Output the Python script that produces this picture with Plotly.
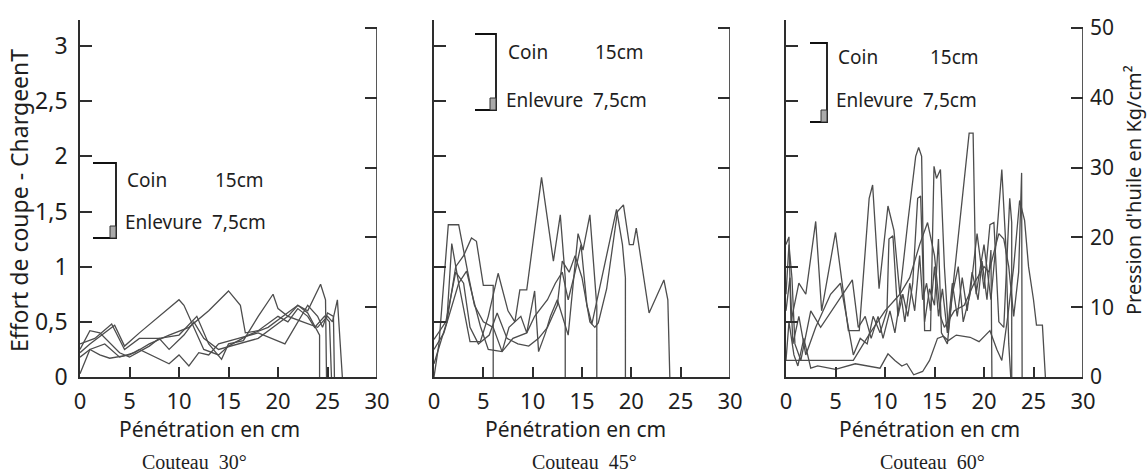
import plotly.graph_objects as go

W, H = 1147, 473

# ---------------- data (x: penetration cm, t: effort T) ----------------
# Couteau 30°
p1_s1_x = [0, 1, 3.5, 4.5, 6, 8, 10, 10.5, 12.5, 14, 15, 17, 19, 20.5, 22, 23, 24, 24.2, 24.2]
p1_s1_t = [0.22, 0.3, 0.47, 0.28, 0.4, 0.55, 0.7, 0.65, 0.25, 0.2, 0.28, 0.38, 0.45, 0.55, 0.65, 0.58, 0.42, 0.38, 0.0]
p1_s2_x = [0, 1, 2.5, 4, 5.5, 7, 9, 11, 13, 15, 16.2, 16.7, 18, 20, 21, 22, 23, 23.7, 24.7, 25.2, 25.4]
p1_s2_t = [0.03, 0.25, 0.3, 0.18, 0.22, 0.3, 0.38, 0.45, 0.6, 0.78, 0.65, 0.4, 0.42, 0.55, 0.5, 0.62, 0.55, 0.45, 0.55, 0.5, 0.0]
p1_s3_x = [0, 1, 2, 4, 5, 7, 8, 10, 11.8, 13, 14.3, 15, 16.5, 18, 19.5, 20, 21, 22, 23, 24.3, 24.8, 24.9]
p1_s3_t = [0.25, 0.42, 0.4, 0.22, 0.18, 0.28, 0.35, 0.38, 0.55, 0.3, 0.16, 0.3, 0.33, 0.55, 0.75, 0.62, 0.55, 0.65, 0.6, 0.84, 0.7, 0.0]
p1_s4_x = [0, 1, 2, 3, 5, 6, 9, 10, 11, 12, 13, 14, 16, 18, 20.7, 22, 23, 24, 24.5, 25, 25.6, 25.7]
p1_s4_t = [0.18, 0.25, 0.2, 0.17, 0.2, 0.25, 0.12, 0.2, 0.1, 0.22, 0.2, 0.3, 0.35, 0.4, 0.3, 0.5, 0.65, 0.55, 0.45, 0.58, 0.55, 0.0]
p1_s5_x = [0, 1.5, 3.2, 4.5, 6, 8, 9, 10.5, 11.5, 12.5, 14, 16, 18, 19.5, 21, 22.5, 24, 25, 25.5, 26, 26.5]
p1_s5_t = [0.3, 0.35, 0.48, 0.25, 0.35, 0.35, 0.25, 0.38, 0.5, 0.35, 0.25, 0.3, 0.35, 0.45, 0.55, 0.5, 0.45, 0.55, 0.5, 0.7, 0.0]

# Couteau 45°
p2_s1_x = [0, 1.3, 2.2, 3.0, 3.8, 4.3, 5.0, 6.0, 6.0]
p2_s1_t = [0.12, 0.5, 1.0, 1.1, 1.26, 1.23, 0.83, 0.83, 0.0]
p2_s2_x = [0, 1.3, 1.8, 2.5, 3.65, 4.7, 5.5, 6.5, 7.5, 8.2, 8.7, 9.4, 10.9, 12.1, 12.8, 13.3, 13.3]
p2_s2_t = [0.5, 0.5, 1.21, 0.85, 0.32, 0.32, 0.55, 0.94, 0.6, 0.5, 0.79, 0.79, 1.81, 1.05, 1.47, 0.9, 0.0]
p2_s3_x = [0, 0.5, 1.45, 2.5, 3.4, 4.1, 5.0, 6.0, 6.9, 7.6, 8.8, 9.4, 10.2, 10.6, 11.3, 11.8, 12.5, 13.6, 14.6, 15.1, 15.8, 16.5, 16.5]
p2_s3_t = [0.0, 0.3, 1.38, 1.38, 0.96, 0.65, 0.5, 0.45, 0.23, 0.45, 0.55, 0.4, 0.78, 0.23, 0.4, 0.55, 0.7, 0.38, 1.3, 1.15, 1.47, 0.64, 0.0]
p2_s4_x = [0, 1.0, 2.5, 3.3, 4.0, 4.7, 5.5, 6.9, 8.0, 9.4, 10.2, 11.5, 12.3, 13.0, 13.6, 14.3, 14.9, 15.5, 16.0, 17.0, 18.5, 19.1, 19.4, 19.4]
p2_s4_t = [0.25, 0.4, 0.85, 0.96, 0.7, 0.46, 0.25, 0.23, 0.35, 0.4, 0.55, 0.7, 0.85, 0.95, 0.7, 0.95, 1.2, 0.65, 0.48, 0.9, 1.52, 1.2, 0.9, 0.0]
p2_s5_x = [0, 1.2, 2.2, 3.0, 3.65, 4.5, 5.6, 6.4, 7.4, 8.5, 9.6, 10.6, 11.5, 12.5, 13.0, 13.7, 14.3, 15.0, 15.8, 16.3, 16.65, 17.5, 18.6, 19.2, 19.8, 20.2, 20.5, 21.8, 23.3, 23.7, 23.9]
p2_s5_t = [0.34, 0.5, 0.95, 0.85, 0.45, 0.3, 0.38, 0.58, 0.35, 0.3, 0.28, 0.35, 0.45, 0.65, 1.05, 0.95, 1.1, 0.9, 0.5, 0.45, 0.49, 0.8, 1.5, 1.56, 1.2, 1.2, 1.35, 0.58, 0.88, 0.7, 0.0]

# Couteau 60°
p3_s1_x = [0, 0.3, 0.5, 1.3, 2.0, 3.0, 3.6, 5.0, 6.3, 7.4, 8.4, 8.75, 9.4, 10.3, 10.9, 11.5, 12.3, 13.1, 13.4, 13.7, 14.0, 14.6, 14.95, 15.2, 15.6, 16.0, 16.4, 18.5, 18.9, 19.2, 20.0, 20.7, 21.3, 21.8, 22.2, 22.5, 22.7]
p3_s1_t = [1.2, 1.27, 0.5, 0.85, 0.75, 1.41, 0.6, 1.31, 0.42, 0.42, 1.62, 1.74, 0.8, 1.55, 1.33, 0.75, 1.4, 2.0, 2.08, 2.0, 0.42, 0.42, 1.91, 1.8, 1.88, 1.0, 0.42, 2.21, 2.21, 0.75, 1.2, 0.7, 1.3, 1.88, 1.2, 0.3, 0.0]
p3_s2_x = [0, 0.3, 0.6, 0.9, 1.5, 2.5, 3.5, 5, 6.7, 7.3, 8, 8.6, 9.3, 9.8, 10.5, 11, 11.6, 12, 12.5, 13.0, 13.5, 13.8, 14.2, 14.6, 15.0, 15.4, 15.8, 16.3, 16.8, 17.3, 17.8, 18.3, 18.8, 19.4, 19.8, 20.3, 20.7, 20.8]
p3_s2_t = [0.75, 1.2, 0.9, 0.3, 0.15, 0.6, 0.45, 0.65, 0.88, 0.45, 0.55, 0.35, 0.55, 0.35, 0.6, 0.4, 0.75, 0.5, 0.85, 0.6, 1.1, 0.7, 0.85, 0.6, 1.0, 0.55, 0.8, 0.4, 0.85, 0.55, 0.9, 0.6, 0.95, 0.7, 1.05, 0.7, 1.15, 0.0]
p3_s3_x = [0, 0.4, 0.7, 1.3, 2, 3, 4.5, 5.5, 6.8, 7.5, 8.2, 8.8, 9.5, 10.2, 10.4, 10.8, 11.3, 11.8, 12.3, 12.8, 13.3, 13.6, 14.0, 14.5, 15.0, 15.4, 15.7, 16.3, 16.8, 17.4, 17.9, 18.6, 19.3, 20.0, 20.6, 21.0, 21.5, 22.0, 22.6, 22.8, 22.8]
p3_s3_t = [0.6, 0.9, 0.3, 0.55, 0.2, 0.45, 0.75, 0.85, 0.2, 0.35, 0.3, 0.55, 0.4, 0.6, 1.25, 1.28, 0.55, 0.75, 0.55, 0.85, 1.62, 1.64, 0.5, 0.8, 0.65, 1.25, 0.4, 0.3, 0.75, 1.0, 0.5, 0.75, 1.3, 0.8, 1.38, 1.4, 0.5, 0.45, 1.62, 1.4, 0.0]
p3_s4_x = [0, 6.8, 8.5, 10.0, 11.5, 12.5, 13.5, 14.3, 15.0, 15.6, 16.0, 17, 18, 19, 20, 20.5, 21.2, 21.5, 22, 22.5, 23.0, 23.5, 23.8, 23.85]
p3_s4_t = [0.15, 0.15, 0.4, 0.6, 0.75, 0.9, 1.2, 1.4, 1.1, 0.55, 0.45, 0.6, 0.65, 0.85, 1.0, 0.95, 1.2, 1.3, 1.25, 1.0, 0.55, 0.95, 1.85, 0.0]
p3_s5_x = [0, 0.3, 0.8, 1.2, 1.8, 2.5, 3.2, 5, 7.0, 8.5, 9.5, 10.3, 11.0, 11.7, 12.2, 12.9, 13.8, 14.5, 15.3, 15.9, 16.4, 17.2, 18.6, 19.5, 20.6, 21.3, 21.8, 22.4, 23.0, 23.6, 24.1, 24.5, 25.0, 25.3, 25.9, 26.2]
p3_s5_t = [0.15, 0.5, 0.2, 0.1, 0.35, 0.08, 0.1, 0.07, 0.12, 0.1, 0.08, 0.21, 0.15, 0.1, 0.12, 0.02, 0.05, 0.15, 0.35, 0.37, 0.33, 0.38, 0.36, 0.32, 0.42, 0.25, 0.15, 0.55, 1.0, 1.6, 1.42, 1.0, 0.7, 0.47, 0.47, 0.0]

panel1 = [(p1_s1_x, p1_s1_t), (p1_s2_x, p1_s2_t), (p1_s3_x, p1_s3_t), (p1_s4_x, p1_s4_t), (p1_s5_x, p1_s5_t)]
panel2 = [(p2_s1_x, p2_s1_t), (p2_s2_x, p2_s2_t), (p2_s3_x, p2_s3_t), (p2_s4_x, p2_s4_t), (p2_s5_x, p2_s5_t)]
panel3 = [(p3_s1_x, p3_s1_t), (p3_s2_x, p3_s2_t), (p3_s3_x, p3_s3_t), (p3_s4_x, p3_s4_t), (p3_s5_x, p3_s5_t)]

x_ticks = [0, 5, 10, 15, 20, 25, 30]
x_ticklabels = ["0", "5", "10", "15", "20", "25", "30"]
t_ticks = [0, 0.5, 1, 1.5, 2, 2.5, 3]
t_ticklabels = ["0", "0,5", "1", "1,5", "2", "2,5", "3"]
p_ticks = [0, 10, 20, 30, 40, 50]
p_ticklabels = ["0", "10", "20", "30", "40", "50"]
captions = ["Couteau  30°", "Couteau  45°", "Couteau  60°"]

# ---------------- layout helpers ----------------
def px(x):
    return x / W

def py(y):
    return 1 - y / H

LINE = "#4d4d4d"
AX = "#2e2e2e"
FONT = "Noto Sans"
TXT = "#1e1e1e"

x_dom = [(80, 377), (434, 730), (786, 1083)]
y_dom = [py(377), py(20)]
t_top = (377 - 20) / ((377 - 46) / 3.0)
p_top = (377 - 20) / ((377 - 28) / 50.0)

fig = go.Figure()
panels = [panel1, panel2, panel3]
for i, pan in enumerate(panels):
    xa = "x" if i == 0 else f"x{i+1}"
    ya = "y" if i == 0 else f"y{i+1}"
    for xs, ts in pan:
        fig.add_trace(go.Scatter(x=xs, y=ts, mode="lines", xaxis=xa, yaxis=ya,
                                 line=dict(color=LINE, width=1.3), showlegend=False,
                                 hoverinfo="skip"))
    # invisible trace for the right (pressure) axis
    fig.add_trace(go.Scatter(x=[0], y=[0], mode="markers", xaxis=xa, yaxis=f"y{i+4}",
                             marker=dict(opacity=0), showlegend=False, hoverinfo="skip"))

layout = dict(width=W, height=H, margin=dict(l=0, r=0, t=0, b=0, autoexpand=False),
              paper_bgcolor="white", plot_bgcolor="white", showlegend=False)

for i in range(3):
    xk = "xaxis" if i == 0 else f"xaxis{i+1}"
    yk = "yaxis" if i == 0 else f"yaxis{i+1}"
    yr = f"yaxis{i+4}"
    xname = "x" if i == 0 else f"x{i+1}"
    yname = "y" if i == 0 else f"y{i+1}"
    layout[xk] = dict(domain=[px(x_dom[i][0]), px(x_dom[i][1])], range=[0, 30],
                      anchor=yname, showgrid=False, zeroline=False, showline=True,
                      linecolor=AX, linewidth=1.6, ticks="inside", ticklen=10,
                      tickwidth=1.5, tickcolor=AX, tickvals=x_ticks, ticktext=x_ticklabels,
                      tickfont=dict(family=FONT, size=22, color=TXT), ticklabelstandoff=4,
                      automargin=False)
    layout[yk] = dict(domain=y_dom, range=[0, t_top], anchor=xname, showgrid=False,
                      zeroline=False, showline=True, linecolor=AX, linewidth=1.6,
                      ticks="inside", ticklen=12, tickwidth=1.5, tickcolor=AX,
                      tickvals=t_ticks, ticktext=t_ticklabels if i == 0 else [""] * 7,
                      showticklabels=(i == 0),
                      tickfont=dict(family=FONT, size=23, color=TXT), ticklabelstandoff=6,
                      automargin=False)
    layout[yr] = dict(domain=y_dom, range=[0, p_top], anchor=xname, overlaying=yname,
                      side="right", showgrid=False, zeroline=False, showline=False,
                      ticks="inside", ticklen=12, tickwidth=1.5, tickcolor=AX,
                      tickvals=p_ticks, ticktext=p_ticklabels,
                      showticklabels=(i == 2),
                      tickfont=dict(family=FONT, size=21, color=TXT), ticklabelstandoff=6,
                      automargin=False)

shapes = []
# right axis lines (pressure axes)
for i in range(3):
    xname = "x" if i == 0 else f"x{i+1}"
    shapes.append(dict(type="line", xref=xname, yref=f"y{i+4}", x0=30, x1=30, y0=0, y1=50,
                       line=dict(color=AX, width=1.6)))

# legend brackets (pixel positions)
brackets = [
    dict(x0=93, x1=116, y0=163, y1=238, tx=125, tx2=213, ty1=180, ty2=222),
    dict(x0=475, x1=496, y0=34, y1=110, tx=506, tx2=593, ty1=52, ty2=100),
    dict(x0=810, x1=827, y0=43, y1=122, tx=836, tx2=928, ty1=57, ty2=100),
]
annotations = []
for b in brackets:
    shapes.append(dict(type="path", xref="paper", yref="paper",
                       path=f"M {px(b['x0'])},{py(b['y0'])} L {px(b['x1'])},{py(b['y0'])} "
                            f"L {px(b['x1'])},{py(b['y1'])} L {px(b['x0'])},{py(b['y1'])}",
                       line=dict(color="#111", width=1.8)))
    shapes.append(dict(type="rect", xref="paper", yref="paper",
                       x0=px(b['x1'] - 6), x1=px(b['x1']), y0=py(b['y1']), y1=py(b['y1'] - 12),
                       fillcolor="#aaaaaa", line=dict(color="#333", width=1)))
    annotations.append(dict(x=px(b['tx']), y=py(b['ty1']), xref="paper", yref="paper",
                            text="Coin", showarrow=False, xanchor="left", yanchor="middle",
                            font=dict(family=FONT, size=19, color=TXT)))
    annotations.append(dict(x=px(b['tx2']), y=py(b['ty1']), xref="paper", yref="paper",
                            text="15cm", showarrow=False, xanchor="left", yanchor="middle",
                            font=dict(family=FONT, size=19, color=TXT)))
    annotations.append(dict(x=px(b['tx'] - 2), y=py(b['ty2']), xref="paper", yref="paper",
                            text="Enlevure  7,5cm", showarrow=False, xanchor="left", yanchor="middle",
                            font=dict(family=FONT, size=19, color=TXT)))

# x titles & captions
xt_centers = [209, 575, 929]
cap_centers = [194, 584, 933]
for i in range(3):
    annotations.append(dict(x=px(xt_centers[i]), y=py(429), xref="paper", yref="paper",
                            text="Pénétration en cm", showarrow=False, xanchor="center",
                            yanchor="middle", font=dict(family=FONT, size=21, color=TXT)))
    annotations.append(dict(x=px(cap_centers[i]), y=py(462), xref="paper", yref="paper",
                            text=captions[i], showarrow=False, xanchor="center",
                            yanchor="middle", font=dict(family="Liberation Serif", size=20, color=TXT)))

annotations.append(dict(x=px(19), y=py(201), xref="paper", yref="paper",
                        text="Effort de coupe - ChargeenT", textangle=-90, showarrow=False,
                        xanchor="center", yanchor="middle",
                        font=dict(family=FONT, size=23, color=TXT)))
annotations.append(dict(x=px(1133), y=py(190), xref="paper", yref="paper",
                        text="Pression d'huile en Kg/cm²", textangle=-90, showarrow=False,
                        xanchor="center", yanchor="middle",
                        font=dict(family=FONT, size=20, color=TXT)))

layout["shapes"] = shapes
layout["annotations"] = annotations
fig.update_layout(**layout)
fig.write_html("out.html", config={"displayModeBar": False},
               post_script="document.body.style.margin='0';document.body.style.overflow='hidden';")
